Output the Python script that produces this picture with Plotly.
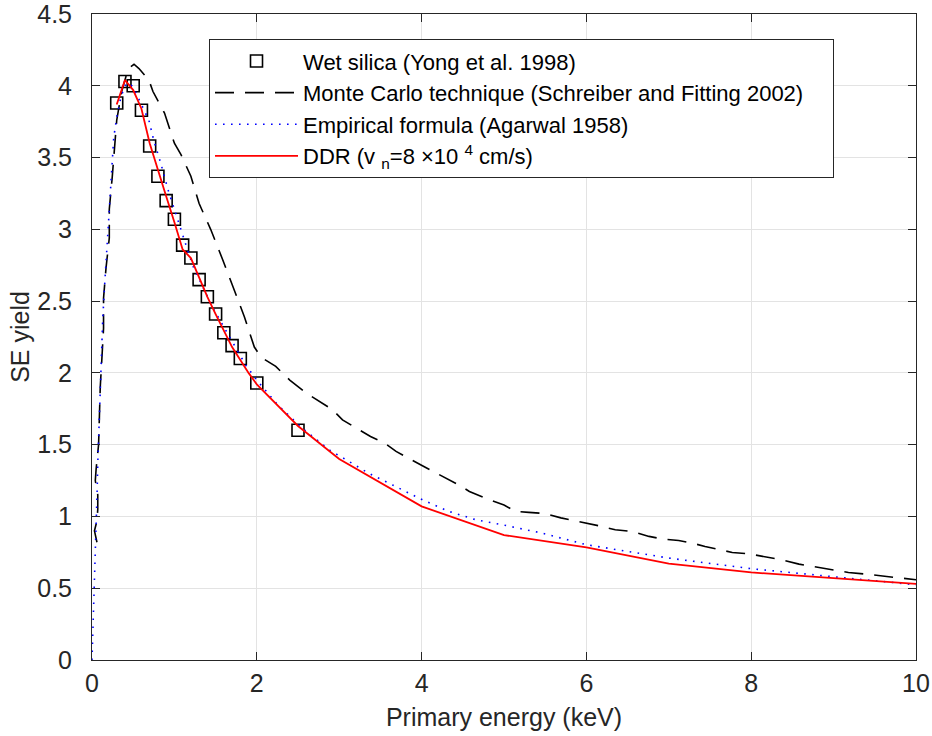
import plotly.graph_objects as go

# Wet silica measurements (Yong et al. 1998)
wet_x = [0.3, 0.4, 0.5, 0.6, 0.7, 0.8, 0.9, 1.0, 1.1, 1.2, 1.3, 1.4, 1.5, 1.6, 1.7, 1.8, 2.0, 2.5]
wet_y = [3.88, 4.03, 4.0, 3.83, 3.58, 3.37, 3.20, 3.07, 2.89, 2.80, 2.65, 2.53, 2.41, 2.28, 2.19, 2.10, 1.93, 1.60]

# Monte Carlo technique (Schreiber and Fitting 2002)
mc_x = [0.06, 0.03, 0.06, 0.07, 0.07, 0.04, 0.05, 0.08, 0.09, 0.10, 0.12, 0.14, 0.14, 0.17, 0.21, 0.21,
        0.245, 0.27, 0.30, 0.36, 0.44, 0.51, 0.57, 0.69, 0.74, 0.88, 1.0, 1.08, 1.14, 1.2, 1.3, 1.44,
        1.585, 1.71, 1.85, 1.97, 2.05, 2.23, 2.4, 2.6, 2.92, 3.04, 3.2, 3.38, 3.55, 3.69, 4.01, 4.33,
        4.45, 4.58, 4.82, 5.0, 5.14, 5.3, 5.5, 5.69, 5.87, 6.0, 6.19, 6.35, 6.55, 6.76, 6.92, 7.12,
        7.28, 7.44, 7.61, 7.77, 7.97, 8.17, 8.37, 8.58, 8.74, 8.98, 9.18, 9.38, 9.59, 9.79, 10.0]
mc_y = [0.82, 0.90, 0.97, 1.05, 1.15, 1.25, 1.33, 1.50, 1.70, 1.90, 2.10, 2.31, 2.52, 2.73, 2.94, 3.14,
        3.36, 3.55, 3.76, 3.96, 4.12, 4.15, 4.12, 4.04, 3.96, 3.81, 3.60, 3.52, 3.44, 3.37, 3.18, 3.00,
        2.79, 2.60, 2.39, 2.18, 2.11, 2.045, 1.95, 1.86, 1.743, 1.673, 1.616, 1.557, 1.511, 1.453, 1.353, 1.256,
        1.22, 1.174, 1.116, 1.08, 1.035, 1.028, 1.02, 0.99, 0.97, 0.954, 0.93, 0.907, 0.896, 0.861, 0.843, 0.833,
        0.815, 0.791, 0.768, 0.749, 0.74, 0.721, 0.698, 0.668, 0.652, 0.629, 0.61, 0.599, 0.587, 0.571, 0.559]

# Empirical formula (Agarwal 1958)
emp_x = [0.0, 0.015, 0.03, 0.042, 0.055, 0.063, 0.07, 0.083, 0.09, 0.103, 0.115, 0.13, 0.15, 0.172, 0.204,
         0.224, 0.245, 0.264, 0.30, 0.35, 0.40, 0.45, 0.50, 0.60, 0.69, 0.75, 0.84, 0.92, 1.0, 1.08, 1.22,
         1.46, 1.67, 1.87, 2.0, 2.25, 2.55, 2.9, 3.04, 3.36, 3.69, 4.01, 4.33, 4.66, 4.98, 5.46, 6.0, 7.0,
         8.0, 9.0, 10.0]
emp_y = [0.0, 0.25, 0.5, 0.745, 0.977, 1.19, 1.37, 1.58, 1.78, 1.93, 2.11, 2.37, 2.58, 2.79, 3.04,
         3.25, 3.46, 3.64, 3.78, 3.92, 4.0, 4.02, 3.99, 3.87, 3.76, 3.62, 3.45, 3.28, 3.14, 3.0, 2.75,
         2.46, 2.25, 2.05, 1.95, 1.78, 1.615, 1.455, 1.41, 1.30, 1.207, 1.116, 1.035, 0.977, 0.942, 0.884, 0.803, 0.71,
         0.636, 0.578, 0.524]

# DDR model
ddr_x = [0.3, 0.4, 0.5, 0.6, 0.7, 0.8, 0.9, 1.0, 1.1, 1.2, 1.3, 1.4, 1.5, 1.6, 1.7, 1.8, 1.9, 2.0,
         2.5, 3, 4, 5, 6, 7, 8, 9, 10]
ddr_y = [3.87, 4.04, 3.97, 3.84, 3.60, 3.41, 3.23, 3.05, 2.86, 2.80, 2.66, 2.53, 2.41, 2.29, 2.18, 2.09, 2.00, 1.92,
         1.63, 1.40, 1.07, 0.87, 0.785, 0.672, 0.61, 0.57, 0.53]

x_ticks = [0, 2, 4, 6, 8, 10]
y_ticks = [0, 0.5, 1, 1.5, 2, 2.5, 3, 3.5, 4, 4.5]

FONT = "Liberation Sans, Arial, Helvetica, sans-serif"
AXIS = "#262626"
GRID = "#e3e3e3"
PAD = "\u00a0\u00a0\u00a0\u00a0"

fig = go.Figure()
fig.add_trace(go.Scatter(
    x=wet_x, y=wet_y, mode="markers", name="Wet silica (Yong et al. 1998)",
    marker=dict(symbol="square-open", size=12, color="black", line=dict(width=1.6, color="black")),
))
fig.add_trace(go.Scatter(
    x=mc_x, y=mc_y, mode="lines", name="Monte Carlo technique (Schreiber and Fitting 2002)" + PAD,
    line=dict(color="black", width=1.6, dash="19px,11px"),
))
fig.add_trace(go.Scatter(
    x=emp_x, y=emp_y, mode="lines", name="Empirical formula (Agarwal 1958)",
    line=dict(color="#0000ff", width=1.6, dash="1.6px,6.4px"),
))
fig.add_trace(go.Scatter(
    x=ddr_x, y=ddr_y, mode="lines",
    name="DDR (v <sub>n</sub>=8 ×10 <sup>4</sup> cm/s)",
    line=dict(color="#ff0000", width=1.8),
))

fig.update_layout(
    width=932, height=736,
    margin=dict(l=92, r=15.5, t=14, b=76),
    paper_bgcolor="white", plot_bgcolor="white",
    font=dict(family=FONT, size=22, color=AXIS),
    showlegend=True,
    legend=dict(
        x=0.142, y=0.961, xanchor="left", yanchor="top",
        bgcolor="white", bordercolor=AXIS, borderwidth=1,
        font=dict(family=FONT, size=22, color="#000000"),
        itemwidth=83, tracegroupgap=0,
    ),
)
fig.update_xaxes(
    range=[0, 10], tickvals=x_ticks, ticktext=[str(v) for v in x_ticks],
    showgrid=True, gridcolor=GRID, gridwidth=1, zeroline=False,
    showline=True, linecolor=AXIS, linewidth=1, mirror="ticks",
    ticks="inside", ticklen=8, tickcolor=AXIS, tickwidth=1,
    tickfont=dict(family=FONT, size=25, color=AXIS), ticklabelstandoff=1,
    automargin=False, ticklabeloverflow="allow",
    title=dict(text="Primary energy (keV)", font=dict(family=FONT, size=25, color=AXIS), standoff=12),
)
fig.update_yaxes(
    range=[0, 4.5], tickvals=y_ticks, ticktext=[("%g" % v) for v in y_ticks],
    showgrid=True, gridcolor=GRID, gridwidth=1, zeroline=False,
    showline=True, linecolor=AXIS, linewidth=1, mirror="ticks",
    ticks="inside", ticklen=8, tickcolor=AXIS, tickwidth=1,
    tickfont=dict(family=FONT, size=25, color=AXIS), ticklabelstandoff=14,
    automargin=False, ticklabeloverflow="allow",
    title=dict(text="SE yield", font=dict(family=FONT, size=25, color=AXIS), standoff=0),
)

# Remove the default 8px page margin so the figure fills the 932x736 window exactly.
fig.write_html(
    "out.html",
    config={"displayModeBar": False},
    post_script="document.body.style.margin='0px';document.body.style.overflow='hidden';",
)
